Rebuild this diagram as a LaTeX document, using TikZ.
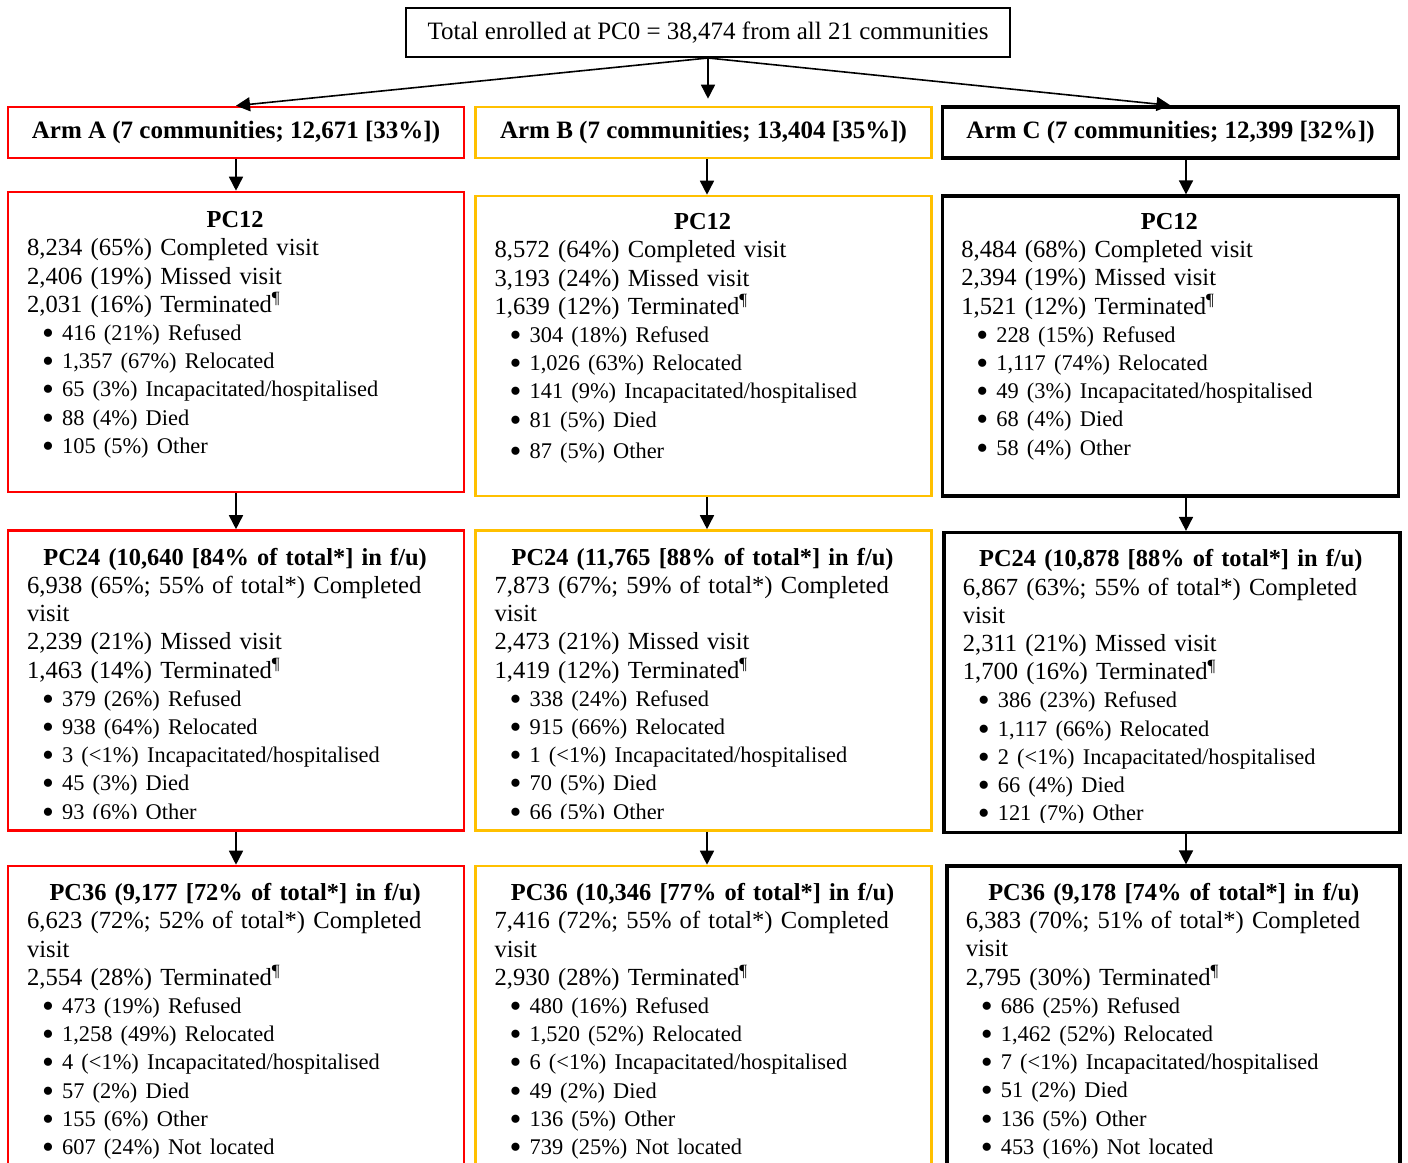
\documentclass[tikz,border=0pt]{standalone}
\usepackage{fontspec}
\setmainfont{Liberation Serif}
\usetikzlibrary{arrows.meta}

\definecolor{armred}{HTML}{FF0000}
\definecolor{armyellow}{HTML}{FFC000}

% bullet line inside the follow-up boxes
\newcommand{\bul}[1]{\hspace*{7.5pt}\makebox[10pt][l]{\raisebox{-2pt}{\fontsize{17pt}{17pt}\selectfont\textbullet}}{\fontsize{11.2pt}{14.1pt}\selectfont #1}}
\newcommand{\pchead}[1]{\makebox[\linewidth]{\fontsize{12.2pt}{14pt}\selectfont\bfseries #1}}
\newcommand{\term}{\textsuperscript{\P}}

\tikzset{
  topbox/.style={draw, line width=1pt, minimum width=302pt, minimum height=24.5pt,
    inner sep=0pt, font=\fontsize{12.5pt}{14pt}\selectfont},
  armbox/.style={draw, line width=1.3pt, minimum width=228pt, minimum height=25.5pt,
    inner sep=0pt, font=\fontsize{12.5pt}{14pt}\selectfont\bfseries},
  pcbox/.style={draw, line width=1.3pt, minimum width=228pt, minimum height=150pt, inner sep=0pt},
  pctext/.style={anchor=base west, inner sep=0pt, text width=208pt, align=left,
    font=\fontsize{12.3pt}{14.1pt}\selectfont},
  flow/.style={-{Triangle[length=7pt,width=7pt]}, line width=0.8pt},
}

\begin{document}
\begin{tikzpicture}[x=0.5pt, y=-0.5pt]
  \clip (0,0) rectangle (1408,1162);

  % enrolment and the three arms
  \node[topbox] (top) at (708,32.5) {Total enrolled at PC0 = 38,474 from all 21 communities};
  \node[armbox, draw=armred] (armA) at (236,132.5) {Arm A (7 communities; 12,671 [33\%])};
  \node[armbox, draw=armyellow] (armB) at (703.5,132.5) {Arm B (7 communities; 13,404 [35\%])};
  \node[armbox, draw=black, line width=1.6pt] (armC) at (1170.5,132.5) {Arm C (7 communities; 12,399 [32\%])};

  % follow-up boxes
  \node[pcbox, draw=armred] (a12) at (236,342) {};
  \node[pcbox, draw=armyellow] (b12) at (703.5,346) {};
  \node[pcbox, draw=black, line width=1.6pt] (c12) at (1170.5,346) {};
  \node[pcbox, draw=armred] (a24) at (236,680.5) {};
  \node[pcbox, draw=armyellow] (b24) at (703.5,680.5) {};
  \node[pcbox, draw=black, line width=1.6pt] (c24) at (1172,682.5) {};
  \node[pcbox, draw=armred] (a36) at (236,1016) {};
  \node[pcbox, draw=armyellow] (b36) at (703.5,1016) {};
  \node[pcbox, draw=black, line width=1.6pt, minimum width=226.5pt] (c36) at (1173.5,1016) {};

  % PC12
  \node[pctext] (a12t) at ([shift={(20,37)}]a12.north west) {\pchead{PC12}\\
    8,234 (65\%) Completed visit\\
    2,406 (19\%) Missed visit\\
    2,031 (16\%) Terminated\term\\
    \bul{416 (21\%) Refused}\\
    \bul{1,357 (67\%) Relocated}\\
    \bul{65 (3\%) Incapacitated/hospitalised}\\
    \bul{88 (4\%) Died}\\
    \bul{105 (5\%) Other}};
  \node[pctext] (b12t) at ([shift={(20,35)}]b12.north west) {\pchead{PC12}\\
    8,572 (64\%) Completed visit\\
    3,193 (24\%) Missed visit\\
    1,639 (12\%) Terminated\term\\
    \bul{304 (18\%) Refused}\\
    \bul{1,026 (63\%) Relocated}\\
    \bul{141 (9\%) Incapacitated/hospitalised}\\
    \bul{81 (5\%) Died}\\[1.5pt]
    \bul{87 (5\%) Other}};
  \node[pctext] (c12t) at ([shift={(20,35)}]c12.north west) {\pchead{PC12}\\
    8,484 (68\%) Completed visit\\
    2,394 (19\%) Missed visit\\
    1,521 (12\%) Terminated\term\\
    \bul{228 (15\%) Refused}\\
    \bul{1,117 (74\%) Relocated}\\
    \bul{49 (3\%) Incapacitated/hospitalised}\\
    \bul{68 (4\%) Died}\\
    \bul{58 (4\%) Other}};

  % PC24 (last line runs into the box edge)
  \begin{scope}
    \clip (a24.north west) rectangle ([shift={(0,-13)}]a24.south east);
    \node[pctext] (a24t) at ([shift={(20,36)}]a24.north west) {\pchead{PC24 (10,640 [84\% of total*] in f/u)}\\
      6,938 (65\%; 55\% of total*) Completed\\
      visit\\
      2,239 (21\%) Missed visit\\
      1,463 (14\%) Terminated\term\\
      \bul{379 (26\%) Refused}\\
      \bul{938 (64\%) Relocated}\\
      \bul{3 (<1\%) Incapacitated/hospitalised}\\
      \bul{45 (3\%) Died}\\
      \bul{93 (6\%) Other}};
  \end{scope}
  \begin{scope}
    \clip (b24.north west) rectangle ([shift={(0,-13)}]b24.south east);
    \node[pctext] (b24t) at ([shift={(20,36)}]b24.north west) {\pchead{PC24 (11,765 [88\% of total*] in f/u)}\\
      7,873 (67\%; 59\% of total*) Completed\\
      visit\\
      2,473 (21\%) Missed visit\\
      1,419 (12\%) Terminated\term\\
      \bul{338 (24\%) Refused}\\
      \bul{915 (66\%) Relocated}\\
      \bul{1 (<1\%) Incapacitated/hospitalised}\\
      \bul{70 (5\%) Died}\\
      \bul{66 (5\%) Other}};
  \end{scope}
  \begin{scope}
    \clip (c24.north west) rectangle ([shift={(0,-12)}]c24.south east);
    \node[pctext] (c24t) at ([shift={(20,36)}]c24.north west) {\pchead{PC24 (10,878 [88\% of total*] in f/u)}\\
      6,867 (63\%; 55\% of total*) Completed\\
      visit\\
      2,311 (21\%) Missed visit\\
      1,700 (16\%) Terminated\term\\
      \bul{386 (23\%) Refused}\\
      \bul{1,117 (66\%) Relocated}\\
      \bul{2 (<1\%) Incapacitated/hospitalised}\\
      \bul{66 (4\%) Died}\\
      \bul{121 (7\%) Other}};
  \end{scope}

  % PC36
  \node[pctext] (a36t) at ([shift={(20,36)}]a36.north west) {\pchead{PC36 (9,177 [72\% of total*] in f/u)}\\
    6,623 (72\%; 52\% of total*) Completed\\
    visit\\
    2,554 (28\%) Terminated\term\\
    \bul{473 (19\%) Refused}\\
    \bul{1,258 (49\%) Relocated}\\
    \bul{4 (<1\%) Incapacitated/hospitalised}\\
    \bul{57 (2\%) Died}\\
    \bul{155 (6\%) Other}\\
    \bul{607 (24\%) Not located}};
  \node[pctext] (b36t) at ([shift={(20,36)}]b36.north west) {\pchead{PC36 (10,346 [77\% of total*] in f/u)}\\
    7,416 (72\%; 55\% of total*) Completed\\
    visit\\
    2,930 (28\%) Terminated\term\\
    \bul{480 (16\%) Refused}\\
    \bul{1,520 (52\%) Relocated}\\
    \bul{6 (<1\%) Incapacitated/hospitalised}\\
    \bul{49 (2\%) Died}\\
    \bul{136 (5\%) Other}\\
    \bul{739 (25\%) Not located}};
  \node[pctext] (c36t) at ([shift={(20,36)}]c36.north west) {\pchead{PC36 (9,178 [74\% of total*] in f/u)}\\
    6,383 (70\%; 51\% of total*) Completed\\
    visit\\
    2,795 (30\%) Terminated\term\\
    \bul{686 (25\%) Refused}\\
    \bul{1,462 (52\%) Relocated}\\
    \bul{7 (<1\%) Incapacitated/hospitalised}\\
    \bul{51 (2\%) Died}\\
    \bul{136 (5\%) Other}\\
    \bul{453 (16\%) Not located}};

  % arrows
  \coordinate (colB) at (707,0);
  \coordinate (colC) at (1186,0);
  \draw[flow] (top.south) -- (armA.north);
  \draw[flow, shorten >=3.5pt] (top.south) -- (top.south |- armB.north);
  \draw[flow] (top.south) -- (armC.north);
  \foreach \u/\l in {armA/a12, a12/a24, a24/a36}
    \draw[flow] (\u) -- (\l);
  \foreach \col/\u/\l in {colB/armB/b12, colB/b12/b24, colB/b24/b36,
                          colC/armC/c12, colC/c12/c24, colC/c24/c36}
    \draw[flow] (\col |- \u.south) -- (\col |- \l.north);
\end{tikzpicture}
\end{document}
